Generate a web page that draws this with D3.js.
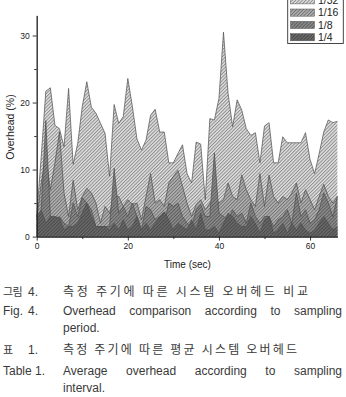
<!DOCTYPE html>
<html>
<head>
<meta charset="utf-8">
<script src="https://cdn.jsdelivr.net/npm/d3@7"></script>
<style>
  body { margin: 0; background: #fff; }
  svg { display: block; }
</style>
</head>
<body>
<script>
// sampling time (sec)
var times = [0,1,2,3,4,5,6,7,8,9,10,11,12,13,14,15,16,17,18,19,20,21,22,23,24,25,26,27,28,29,30,31,32,
  33,34,35,36,37,38,39,40,41,42,43,44,45,46,47,48,49,50,51,52,53,54,55,56,57,58,59,60,61,62,63,64,65,66];

// overhead (%) per sampling period
var s32 = [3,12,21.7,22.2,16.6,16.1,13.4,22.1,10.8,13.9,19.4,23.1,19.3,18.4,16.9,15.4,9,19.7,16.9,17.9,23.6,19.4,
  14.6,12.9,14.4,18.1,19.0,15.6,15.6,11.0,11.0,12.4,13.7,9.4,8.0,14.1,13.8,5.5,17.6,17.4,20.6,30.5,21.4,16.4,
  20.4,18.9,16.1,15.1,15.5,11.0,16.5,17.0,11.0,11.0,14.9,14.0,14.0,14.0,14.0,15.5,11.5,9.4,12.4,15.6,17.4,17.0,17.2];
var s16 = [2.5,8,12,7,11,15.6,6.5,3,8.4,4,6,7.2,6.5,5,2,4.5,3.5,6,6,4.5,5.5,4.8,5,2.5,6,9.4,5,5.5,4.5,8,9,9.9,
  7.5,5,3,4.8,5.5,4,5,6,5,5.5,8,6,5.5,9.2,7,5.5,4.5,9.4,4.5,9.2,6,5,6,5.5,6.5,8,5,7,5.5,4,6,7.8,6,5,6];
var s8 = [1.5,4,17.3,3,2,3,2,1.5,5,3,5.8,5,4,1.5,1.5,1.5,1.5,10.2,3.5,4.5,3,5,3,1,4.5,4,2.5,3,2,5,4.5,5,3,2,1.5,
  4,4.8,3,3,12.5,3.5,3,2.5,4,3,3.5,2,5,3,2,3,3,1.5,2.5,3,4,2,6.5,3,4,2,2.5,4,6.5,5,3,6];
var s4 = [3,4,2,3,3,2.8,1,1.5,1.5,2,3.5,5,3,1.5,1.5,1.5,1,2,1,2.5,1,1.5,3,1,2,1,2,3,3.7,2.5,1,2,1.5,1,2.5,1,3.5,
  1,1,1.5,0.5,2,3.5,3,2,1.5,1.5,3,2,0.5,2.5,3,0.5,1,2,0.5,2,1,2,1,0.5,1,2,3,2,1,1.5];

var seriesNames = ["1/32", "1/16", "1/8", "1/4"];
var xMajor = [0, 20, 40, 60];
var xMinor = [10, 30, 50];
var yMajor = [0, 10, 20, 30];
var yMinor = [5, 15, 25];

var width = 346, height = 397;
var svg = d3.select('body').append('svg')
    .attr('width', width)
    .attr('height', height)
    .style('font-family', '"Liberation Sans", Arial, sans-serif');

var x = d3.scaleLinear().domain([0, 66]).range([36.7, 337.4]);
var y = d3.scaleLinear().domain([0, 33]).range([236.6, 15.4]);

// hatch patterns, one per series
var fills = [
  {bg: '#e0e0e0', fg: '#858585'},
  {bg: '#b3b3b3', fg: '#6a6a6a'},
  {bg: '#8c8c8c', fg: '#565656'},
  {bg: '#6a6a6a', fg: '#454545'}
];
var defs = svg.append('defs');
fills.forEach(function(f, i) {
  var p = defs.append('pattern')
      .attr('id', 'hatch' + i)
      .attr('patternUnits', 'userSpaceOnUse')
      .attr('width', 2.4).attr('height', 2.4)
      .attr('patternTransform', 'rotate(45)');
  p.append('rect').attr('width', 2.4).attr('height', 2.4).attr('fill', f.bg);
  p.append('line').attr('x1', 0.5).attr('y1', 0).attr('x2', 0.5).attr('y2', 2.4)
      .attr('stroke', f.fg).attr('stroke-width', 0.9);
});

var series = [s32, s16, s8, s4];

var area = d3.area()
    .x(function(d, i) { return x(times[i]); })
    .y0(y(0))
    .y1(function(d) { return y(d); });
var line = d3.line()
    .x(function(d, i) { return x(times[i]); })
    .y(function(d) { return y(d); });

var plot = svg.append('g');
series.forEach(function(s, i) {
  plot.append('path').attr('d', area(s)).attr('fill', 'url(#hatch' + i + ')');
  plot.append('path').attr('d', line(s))
      .attr('fill', 'none').attr('stroke', '#4d4d4d').attr('stroke-width', 0.7);
});

// axes
var xAxis = d3.axisBottom(x).tickValues(xMajor).tickSize(4).tickSizeOuter(0).tickPadding(2);
var xAxisMinor = d3.axisBottom(x).tickValues(xMinor).tickSize(2.5).tickSizeOuter(0).tickFormat('');
var yAxis = d3.axisLeft(y).tickValues(yMajor).tickSize(4).tickSizeOuter(0).tickPadding(3);
var yAxisMinor = d3.axisLeft(y).tickValues(yMinor).tickSize(2.5).tickSizeOuter(0).tickFormat('');

function styleAxis(g) {
  g.selectAll('path, line').attr('stroke', '#222').attr('stroke-width', 0.9);
  g.selectAll('text').attr('fill', '#222').style('font-size', '8.5px').style('font-family', '"Liberation Sans", Arial, sans-serif');
}
svg.append('g').attr('transform', 'translate(0,' + y(0) + ')').call(xAxis).call(styleAxis);
svg.append('g').attr('transform', 'translate(0,' + y(0) + ')').call(xAxisMinor).call(styleAxis);
svg.append('g').attr('transform', 'translate(' + x(0) + ',0)').call(yAxis).call(styleAxis);
svg.append('g').attr('transform', 'translate(' + x(0) + ',0)').call(yAxisMinor).call(styleAxis);

svg.append('text')
    .attr('x', 187.5).attr('y', 267.5)
    .attr('text-anchor', 'middle')
    .attr('fill', '#222')
    .style('font-size', '10px')
    .text('Time (sec)');
svg.append('text')
    .attr('transform', 'translate(14,127) rotate(-90)')
    .attr('text-anchor', 'middle')
    .attr('fill', '#222')
    .style('font-size', '10.5px')
    .text('Overhead (%)');

// legend
var legend = svg.append('g');
legend.append('rect')
    .attr('x', 287.7).attr('y', -8).attr('width', 55.6).attr('height', 51.5)
    .attr('fill', '#fff').attr('stroke', '#333').attr('stroke-width', 0.9);
seriesNames.forEach(function(name, i) {
  var cy = 0.3 + i * 12.3;
  legend.append('rect')
      .attr('x', 290.5).attr('y', cy - 3.6).attr('width', 24).attr('height', 7.2)
      .attr('fill', 'url(#hatch' + i + ')').attr('stroke', '#555').attr('stroke-width', 0.5);
  legend.append('text')
      .attr('x', 318).attr('y', cy + 3.8)
      .attr('fill', '#222')
      .style('font-size', '10.5px')
      .text(name);
});

// caption
var cap = svg.append('g').attr('fill', '#3a3a3a');
var kfont = '"Noto Sans CJK KR", sans-serif';

function justify(words, x0, x1, yb) {
  var nodes = words.map(function(w) {
    return cap.append('text').attr('y', yb).style('font-size', '12px').text(w);
  });
  var widths = nodes.map(function(n) { return n.node().getComputedTextLength(); });
  var gap = (x1 - x0 - d3.sum(widths)) / (words.length - 1);
  var cx = x0;
  nodes.forEach(function(n, i) { n.attr('x', cx); cx += widths[i] + gap; });
}

function kline(label, num, body, yb, x1) {
  cap.append('text').attr('x', 3).attr('y', yb)
      .style('font-family', kfont).style('font-size', '11px')
      .attr('letter-spacing', '-0.5').text(label);
  cap.append('text').attr('x', 28).attr('y', yb)
      .style('font-size', '12px').text(num);
  cap.append('text').attr('x', 63).attr('y', yb)
      .style('font-family', kfont).style('font-size', '12px')
      .attr('textLength', x1 - 63).attr('lengthAdjust', 'spacing')
      .text(body);
}

kline('그림', '4.', '측정 주기에 따른 시스템 오버헤드 비교', 296, 308);
cap.append('text').attr('x', 3).attr('y', 314.5).style('font-size', '12px').text('Fig.');
cap.append('text').attr('x', 28).attr('y', 314.5).style('font-size', '12px').text('4.');
justify(['Overhead', 'comparison', 'according', 'to', 'sampling'], 63, 342, 314.5);
cap.append('text').attr('x', 63).attr('y', 332).style('font-size', '12px').text('period.');

kline('표', '1.', '측정 주기에 따른 평균 시스템 오버헤드', 354, 297);
cap.append('text').attr('x', 3).attr('y', 374.5).style('font-size', '12px').text('Table 1.');
justify(['Average', 'overhead', 'according', 'to', 'sampling'], 63, 342, 374.5);
cap.append('text').attr('x', 63).attr('y', 392).style('font-size', '12px').text('interval.');
</script>
</body>
</html>
